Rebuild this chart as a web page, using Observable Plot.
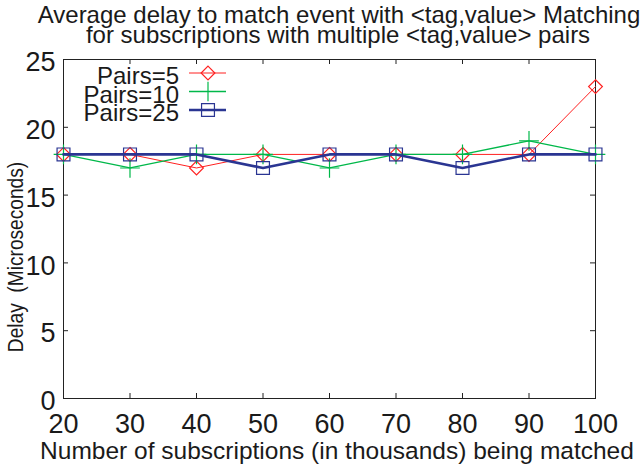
<!DOCTYPE html>
<html><head><meta charset="utf-8">
<script src="https://cdn.jsdelivr.net/npm/d3@7"></script>
<script src="https://cdn.jsdelivr.net/npm/@observablehq/plot@0.6"></script>
<style>
body{margin:0;background:#fff;}
#wrap{position:relative;width:642px;height:468px;overflow:hidden;font-family:"Liberation Sans",Arial,Helvetica,sans-serif;color:#1a1a1a;}
#wrap svg{position:absolute;left:0;top:0;}
.ht{position:absolute;white-space:pre;font-size:24px;line-height:24px;}
</style></head><body>
<div id="wrap"></div>
<script>
// ---- data ----
const xValues = [20, 30, 40, 50, 60, 70, 80, 90, 100];
const pairs5  = [18, 18, 17, 18, 18, 18, 18, 18, 23];
const pairs10 = [18, 17, 18, 18, 17, 18, 18, 19, 18];
const pairs25 = [18, 18, 18, 17, 18, 18, 17, 18, 18];
const seriesNames = ["Pairs=5", "Pairs=10", "Pairs=25"];
const xTicks = [20, 30, 40, 50, 60, 70, 80, 90, 100];
const yTicks = [0, 5, 10, 15, 20, 25];
const titleLines = ["Average delay to match event with <tag,value> Matching", "for subscriptions with multiple <tag,value> pairs"];
const xLabel = "Number of subscriptions (in thousands) being matched";
const yLabel = "Delay  (Microseconds)";

// ---- styles ----
const colors = ["#ff2020", "#00b84a", "#2a3592"];
const symbols = ["diamond2", "plus", "square2"];
const radii = [6.2, 6.4, 8.2];
const lineWidths = [1, 1.3, 2.6];

const allSeries = [pairs5, pairs10, pairs25];
const rows = [];
allSeries.forEach((vals, i) => vals.forEach((v, j) => rows.push({series: seriesNames[i], x: xValues[j], y: v})));

const W = 642, H = 468, mT = 59, mB = 70, mL = 63, mR = 47;
const fw = W - mL - mR, fh = H - mT - mB, tk = 5;

const marks = [
  Plot.frame({stroke: "#222", strokeWidth: 1}),
  Plot.tickX(xTicks, {x: d => d, insetTop: fh - tk, stroke: "#222"}),
  Plot.tickX(xTicks, {x: d => d, insetBottom: fh - tk, stroke: "#222"}),
  Plot.tickY(yTicks, {y: d => d, insetRight: fw - tk, stroke: "#222"}),
  Plot.tickY(yTicks, {y: d => d, insetLeft: fw - tk, stroke: "#222"}),
  Plot.axisX(xTicks, {tickSize: 0, tickPadding: 15, fontSize: 27, label: null}),
  Plot.axisY(yTicks, {tickSize: 0, tickPadding: 8, fontSize: 27, dy: 3, label: null})
];
seriesNames.forEach((name, i) => {
  const d = rows.filter(r => r.series === name);
  marks.push(Plot.line(d, {x: "x", y: "y", stroke: colors[i], strokeWidth: lineWidths[i]}));
  marks.push(Plot.dot(d, {x: "x", y: "y", symbol: symbols[i], r: radii[i], stroke: colors[i], strokeWidth: 1.2, fill: "none"}));
});

const plot = Plot.plot({
  width: W, height: H,
  marginTop: mT, marginBottom: mB, marginLeft: mL, marginRight: mR,
  x: {domain: [20, 100]},
  y: {domain: [0, 25]},
  style: {fontFamily: '"Liberation Sans", Arial, Helvetica, sans-serif', fontSize: "24px", color: "#1a1a1a", background: "white"},
  marks
});
const wrap = document.getElementById("wrap");
wrap.appendChild(plot);

// legend
const svg = d3.select(plot);
const lg = svg.append("g").attr("aria-label", "legend");
const symMap = {diamond2: d3.symbolDiamond2, plus: d3.symbolPlus, square2: d3.symbolSquare2};
seriesNames.forEach((name, i) => {
  const cy = 73 + i * 18.5;
  lg.append("text").attr("x", 179).attr("y", cy + 3).attr("dy", "0.35em")
    .attr("text-anchor", "end").attr("font-size", 24).attr("fill", "#1a1a1a").text(name);
  lg.append("line").attr("x1", 189).attr("x2", 226).attr("y1", cy).attr("y2", cy)
    .attr("stroke", colors[i]).attr("stroke-width", lineWidths[i]);
  lg.append("path").attr("transform", `translate(208,${cy})`)
    .attr("d", d3.symbol(symMap[symbols[i]], Math.PI * radii[i] * radii[i])())
    .attr("fill", "none").attr("stroke", colors[i]).attr("stroke-width", 1.2);
});

// titles
function addText(txt, cx, cy, tf, fs) {
  const d = document.createElement("div");
  d.className = "ht";
  d.textContent = txt;
  d.style.left = cx + "px";
  d.style.top = cy + "px";
  d.style.transform = tf;
  if (fs) d.style.fontSize = fs + "px";
  wrap.appendChild(d);
  return d;
}
addText(titleLines[0], 339, 15, `translate(-50%,-50%)`);
addText(titleLines[1], 338, 35, `translate(-50%,-50%)`);
addText(xLabel, 337, 451, `translate(-50%,-50%)`, 24.5);
addText(yLabel, 16, 257, `translate(-50%,-50%) rotate(-90deg) scaleX(0.87)`, 22);
</script>
</body></html>
